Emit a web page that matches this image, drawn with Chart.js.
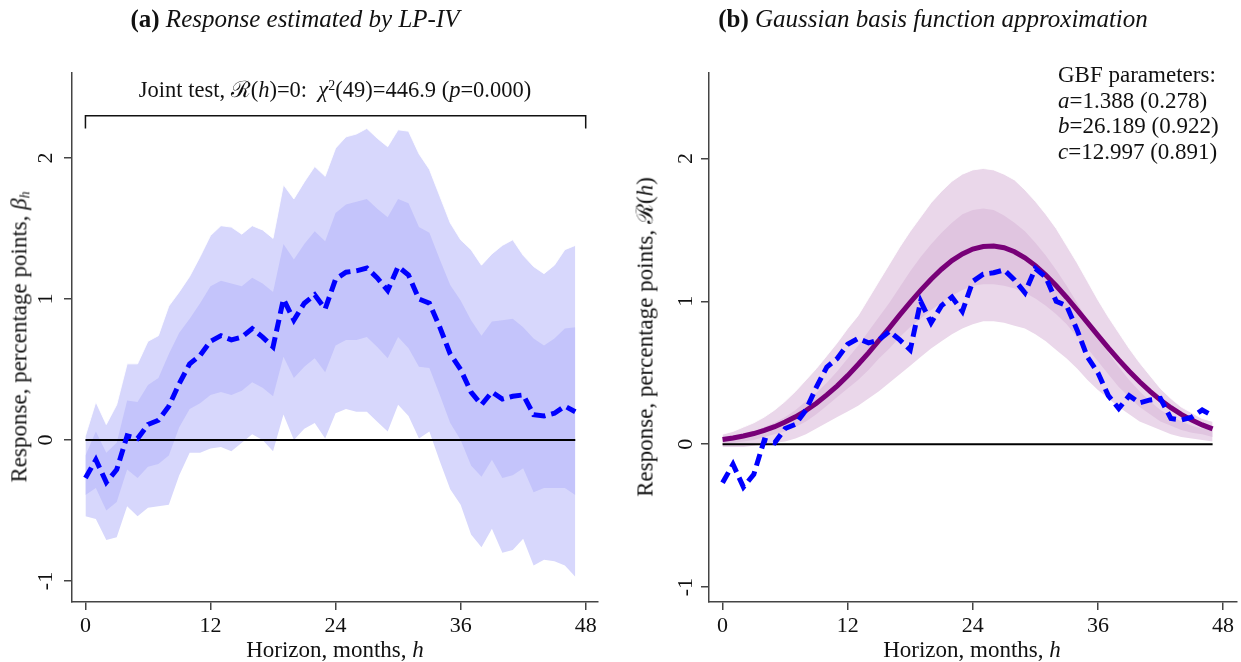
<!DOCTYPE html>
<html>
<head>
<meta charset="utf-8">
<script src="https://cdn.jsdelivr.net/npm/chart.js@4.4.1/dist/chart.umd.min.js"></script>
<style>
  html, body { margin: 0; padding: 0; background: #fff; }
  #wrap { position: relative; width: 1241px; height: 662px; overflow: hidden; background: #fff;
          font-family: "Liberation Serif", "DejaVu Serif", serif; color: #111; }
  .pane { position: absolute; top: 0; height: 662px; }
  .txt { position: absolute; white-space: nowrap; line-height: 1; }
  .c { transform: translate(-50%, -50%); }
  .rot { transform: translate(-50%, -50%) rotate(-90deg); }
  .ptitle { font-size: 25px; }
  .ptitle b { font-weight: bold; }
  .axt { font-size: 23px; }
  .note { font-size: 22.5px; }
  .gbf { font-size: 23px; line-height: 25.7px; white-space: pre; }
  sub { font-size: 0.6em; vertical-align: -0.25em; }
  sup { font-size: 0.62em; vertical-align: 0.45em; }
</style>
</head>
<body>
<div id="wrap">
  <div class="pane" style="left:0;width:620px;"><canvas id="cA" width="620" height="662"></canvas></div>
  <div class="pane" style="left:620px;width:621px;"><canvas id="cB" width="621" height="662"></canvas></div>

  <div class="txt c ptitle" style="left:295px;top:18px;"><b>(a)</b> <i>Response estimated by LP-IV</i></div>
  <div class="txt c ptitle" style="left:933px;top:18px;"><b>(b)</b> <i>Gaussian basis function approximation</i></div>

  <div class="txt c note" style="left:335px;top:90px;">Joint test, ℛ(<i>h</i>)=0:&nbsp; <i>χ</i><sup>2</sup>(49)=446.9 (<i>p</i>=0.000)</div>

  <div class="txt gbf" style="left:1058px;top:62px;">GBF parameters:
<i>a</i>=1.388 (0.278)
<i>b</i>=26.189 (0.922)
<i>c</i>=12.997 (0.891)</div>

  <div class="txt rot axt" style="left:20px;top:337px;">Response, percentage points, <i>β</i><sub><i>h</i></sub></div>
  <div class="txt rot axt" style="left:645px;top:337px;">Response, percentage points, ℛ(<i>h</i>)</div>

  <div class="txt c axt" style="left:335px;top:649px;">Horizon, months, <i>h</i></div>
  <div class="txt c axt" style="left:972px;top:649px;">Horizon, months, <i>h</i></div>
</div>

<script>
// ---------------- data ----------------
const horizons = [0,1,2,3,4,5,6,7,8,9,10,11,12,13,14,15,16,17,18,19,20,21,22,23,
                  24,25,26,27,28,29,30,31,32,33,34,35,36,37,38,39,40,41,42,43,44,45,46,47];

// LP-IV impulse response (blue dashed)
const lpResponse = [-0.27,-0.14,-0.30,-0.21,0.03,0.01,0.11,0.14,0.24,0.40,0.54,0.60,
                    0.70,0.74,0.71,0.73,0.79,0.73,0.66,1.00,0.85,0.97,1.03,0.93,
                    1.14,1.19,1.20,1.22,1.15,1.06,1.23,1.17,1.00,0.97,0.80,0.61,
                    0.50,0.34,0.25,0.34,0.29,0.31,0.32,0.18,0.17,0.19,0.24,0.20];

// LP-IV confidence bands
const lpOuterUpper = [0.03,0.27,0.11,0.25,0.54,0.54,0.70,0.74,0.95,1.05,1.16,1.30,
                      1.45,1.52,1.51,1.46,1.52,1.49,1.43,1.81,1.71,1.83,1.94,1.87,
                      2.07,2.15,2.17,2.21,2.14,2.08,2.20,2.19,2.03,1.92,1.73,1.54,
                      1.42,1.35,1.24,1.32,1.38,1.42,1.31,1.23,1.18,1.24,1.35,1.38];
const lpOuterLower = [-0.54,-0.56,-0.71,-0.69,-0.47,-0.54,-0.48,-0.47,-0.46,-0.25,-0.09,-0.09,
                      -0.06,-0.05,-0.08,-0.02,0.04,0.00,-0.08,0.18,0.00,0.08,0.12,0.01,
                      0.19,0.22,0.20,0.20,0.13,0.06,0.25,0.17,0.01,0.06,-0.15,-0.35,
                      -0.46,-0.67,-0.76,-0.63,-0.80,-0.78,-0.70,-0.89,-0.85,-0.86,-0.89,-0.97];
const lpInnerUpper = [-0.11,0.06,-0.09,-0.02,0.28,0.27,0.39,0.44,0.61,0.76,0.86,0.97,
                      1.09,1.13,1.11,1.09,1.15,1.11,1.05,1.39,1.28,1.39,1.48,1.41,
                      1.61,1.67,1.69,1.71,1.64,1.58,1.71,1.68,1.51,1.47,1.28,1.10,
                      0.99,0.85,0.74,0.84,0.85,0.86,0.80,0.72,0.67,0.72,0.79,0.80];
const lpInnerLower = [-0.39,-0.34,-0.50,-0.44,-0.21,-0.27,-0.19,-0.17,-0.11,0.09,0.22,0.26,
                      0.32,0.34,0.32,0.35,0.41,0.37,0.31,0.59,0.44,0.52,0.58,0.48,
                      0.67,0.71,0.71,0.73,0.66,0.58,0.73,0.65,0.52,0.51,0.32,0.12,
                      0.00,-0.18,-0.26,-0.14,-0.27,-0.25,-0.20,-0.37,-0.34,-0.34,-0.34,-0.39];

// Gaussian basis function approximation (purple)
const gbfResponse = [0.033,0.044,0.058,0.075,0.097,0.123,0.155,0.192,0.236,0.287,0.345,0.409,
                     0.480,0.558,0.640,0.727,0.815,0.905,0.993,1.077,1.155,1.225,1.285,1.332,
                     1.366,1.384,1.387,1.375,1.347,1.305,1.250,1.184,1.109,1.027,0.940,0.851,
                     0.762,0.674,0.590,0.511,0.437,0.370,0.309,0.256,0.209,0.169,0.135,0.107];
const gbfOuterUpper = [0.07,0.09,0.12,0.15,0.19,0.24,0.30,0.37,0.45,0.53,0.62,0.71,
                       0.81,0.90,1.02,1.14,1.26,1.38,1.49,1.59,1.69,1.77,1.84,1.89,
                       1.92,1.93,1.92,1.89,1.85,1.78,1.70,1.61,1.51,1.39,1.27,1.14,
                       1.01,0.89,0.78,0.67,0.57,0.48,0.39,0.32,0.26,0.22,0.18,0.16];
const gbfOuterLower = [-0.02,-0.02,-0.02,-0.01,0.00,0.01,0.02,0.04,0.07,0.11,0.15,0.19,
                       0.23,0.27,0.32,0.37,0.43,0.49,0.55,0.61,0.67,0.72,0.77,0.81,
                       0.84,0.86,0.86,0.85,0.83,0.81,0.77,0.72,0.66,0.60,0.53,0.45,
                       0.38,0.32,0.26,0.21,0.16,0.13,0.10,0.07,0.05,0.04,0.03,0.02];
const gbfInnerUpper = [0.04,0.05,0.07,0.09,0.12,0.15,0.19,0.24,0.30,0.36,0.43,0.51,
                       0.60,0.69,0.79,0.89,0.99,1.10,1.21,1.31,1.40,1.48,1.55,1.61,
                       1.64,1.65,1.64,1.60,1.55,1.49,1.41,1.32,1.22,1.11,0.99,0.87,
                       0.75,0.64,0.54,0.45,0.37,0.30,0.24,0.20,0.16,0.13,0.11,0.10];
const gbfInnerLower = [0.00,0.01,0.02,0.03,0.05,0.07,0.09,0.12,0.16,0.21,0.27,0.33,
                       0.39,0.45,0.52,0.60,0.67,0.75,0.82,0.88,0.94,0.99,1.04,1.08,
                       1.11,1.12,1.12,1.11,1.09,1.06,1.02,0.97,0.91,0.84,0.75,0.67,
                       0.58,0.49,0.40,0.33,0.26,0.21,0.16,0.13,0.10,0.08,0.07,0.05];

// reference line and joint-test bracket
const zeroLineX = [0, 47];
const zeroLineY = [0, 0];
const bracketX = [0, 0, 48, 48];
const bracketY = [2.21, 2.30, 2.30, 2.21];

// tick labels
const xTickValues = [0, 12, 24, 36, 48];
const yTickValues = [-1, 0, 1, 2];

// ---------------- helpers ----------------
const pts = (xs, ys) => xs.map((x, i) => ({ x: x, y: ys[i] }));
const FONT = '"Liberation Serif", "DejaVu Serif", serif';
const AXIS = '#444';

const yLabelPlugin = {
  id: 'yLabels',
  afterDraw(chart, args, opts) {
    const s = chart.scales.y, ctx = chart.ctx;
    ctx.save();
    ctx.font = '22px ' + FONT;
    ctx.fillStyle = '#111';
    ctx.textAlign = 'center';
    ctx.textBaseline = 'middle';
    for (const v of yTickValues) {
      const py = s.getPixelForValue(v);
      ctx.save();
      ctx.translate(opts.x, py);
      ctx.rotate(-Math.PI / 2);
      ctx.fillText(String(v), 0, 1);
      ctx.restore();
    }
    ctx.restore();
  }
};

function line(data, color, width, extra) {
  return Object.assign({ data: data, borderColor: color, borderWidth: width, pointRadius: 0,
                         tension: 0, fill: false }, extra || {});
}
function bandUpper(data, color, targetIndex, outline) {
  return { data: data, borderColor: outline ? 'rgba(255,255,255,0.85)' : 'rgba(0,0,0,0)',
           borderWidth: outline ? 1 : 0, pointRadius: 0,
           tension: 0, backgroundColor: color, fill: targetIndex };
}
function bandLower(data, outline) {
  return { data: data, borderColor: outline ? 'rgba(255,255,255,0.85)' : 'rgba(0,0,0,0)',
           borderWidth: outline ? 1 : 0, pointRadius: 0, tension: 0, fill: false };
}

function makeChart(id, datasets, cfg) {
  return new Chart(document.getElementById(id), {
    type: 'line',
    data: { datasets: datasets },
    plugins: [yLabelPlugin],
    options: {
      responsive: false,
      animation: false,
      devicePixelRatio: 1,
      layout: { padding: { left: 0, right: cfg.padRight, top: 73, bottom: 20 } },
      plugins: {
        legend: { display: false },
        tooltip: { enabled: false },
        yLabels: { x: cfg.yLabelX },
        filler: { drawTime: 'beforeDatasetDraw' }
      },
      scales: {
        x: {
          type: 'linear', min: cfg.xMin, max: cfg.xMax,
          afterBuildTicks: s => { s.ticks = xTickValues.map(v => ({ value: v })); },
          afterFit: s => { s.height = 40; },
          grid: { drawOnChartArea: false, drawTicks: true, tickLength: 8, color: AXIS, lineWidth: 1.5 },
          border: { display: true, color: AXIS, width: 1.5 },
          ticks: { font: { family: FONT, size: 22 }, color: '#111', padding: 3,
                   maxRotation: 0, minRotation: 0, autoSkip: false }
        },
        y: {
          type: 'linear', min: cfg.yMin, max: cfg.yMax,
          afterBuildTicks: s => { s.ticks = yTickValues.map(v => ({ value: v })); },
          afterFit: s => { s.width = cfg.yWidth; },
          grid: { drawOnChartArea: false, drawTicks: true, tickLength: 8, color: AXIS, lineWidth: 1.5 },
          border: { display: true, color: AXIS, width: 1.5 },
          ticks: { display: false }
        }
      }
    }
  });
}

const blueDash = { borderDash: [12, 6], borderCapStyle: 'butt', borderJoinStyle: 'miter' };

// ---------------- panel (a) ----------------
makeChart('cA', [
  line(pts(horizons, lpResponse), '#0000ff', 5, blueDash),            // 0
  line(pts(bracketX, bracketY), '#111', 1.5),                          // 1
  line(pts(zeroLineX, zeroLineY), '#000', 2),                          // 2
  bandUpper(pts(horizons, lpInnerUpper), 'rgb(196,196,251)', 4, false),// 3
  bandLower(pts(horizons, lpInnerLower), false),                       // 4
  bandUpper(pts(horizons, lpOuterUpper), 'rgb(215,215,252)', 6, true), // 5
  bandLower(pts(horizons, lpOuterLower), true)                         // 6
], { padRight: 22, yWidth: 72, yLabelX: 45, xMin: -1.29, xMax: 49.18, yMin: -1.149, yMax: 2.603 });

// ---------------- panel (b) ----------------
makeChart('cB', [
  line(pts(horizons, lpResponse), '#0000ff', 5, blueDash),            // 0
  line(pts(horizons, gbfResponse), '#780078', 5),                      // 1
  line(pts(zeroLineX, zeroLineY), '#000', 2),                          // 2
  bandUpper(pts(horizons, gbfInnerUpper), 'rgb(224,197,224)', 4, false),// 3
  bandLower(pts(horizons, gbfInnerLower), false),                      // 4
  bandUpper(pts(horizons, gbfOuterUpper), 'rgb(234,215,234)', 6, true),// 5
  bandLower(pts(horizons, gbfOuterLower), true)                        // 6
], { padRight: 4, yWidth: 89, yLabelX: 65, xMin: -1.30, xMax: 49.34, yMin: -1.104, yMax: 2.598 });
</script>
</body>
</html>
